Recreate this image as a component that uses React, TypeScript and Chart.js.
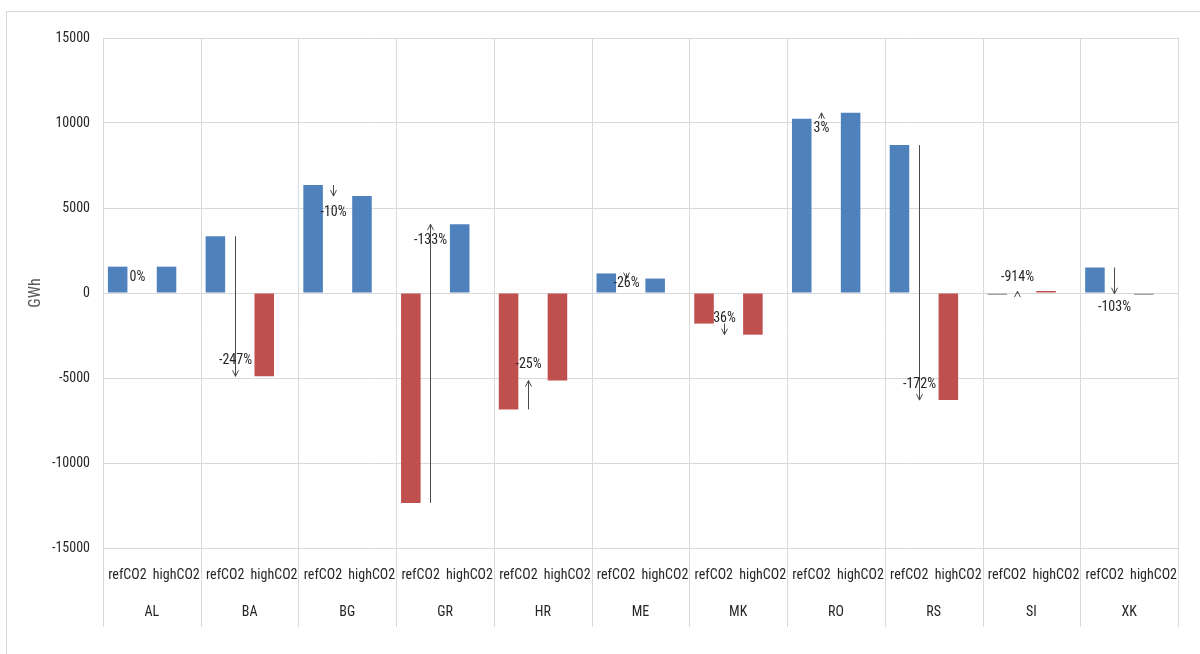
import React, { useEffect, useRef } from 'react';
import { Chart, registerables } from 'chart.js';

Chart.register(...registerables);

const countries = ['AL', 'BA', 'BG', 'GR', 'HR', 'ME', 'MK', 'RO', 'RS', 'SI', 'XK'];
const scenarios = ['refCO2', 'highCO2'];
const refValues = [1550, 3340, 6350, -12350, -6850, 1150, -1800, 10250, 8700, -13, 1500];
const highValues = [1550, -4900, 5700, 4050, -5150, 850, -2450, 10600, -6300, 106, -45];
const changeLabels = ['0%', '-247%', '-10%', '-133%', '-25%', '-26%', '36%', '3%', '-172%', '-914%', '-103%'];
const yMin = -15000;
const yMax = 15000;
const yStep = 5000;
const yTitle = 'GWh';
// bars shown in the "decrease" colour even though positive
const redPositive = ['SI highCO2'];

const BLUE = '#4F81BD';
const RED = '#C0504D';
const GREY = '#a6a6a6';
const GRID = '#d9d9d9';
const TEXT = '#262626';
const FONT = "'Liberation Sans Narrow', 'Arial Narrow', 'Roboto Condensed', Lato, sans-serif";

const labels = countries.flatMap((c) => scenarios.map((s) => `${c} ${s}`));
const barValues = countries.flatMap((_, i) => [refValues[i], highValues[i]]);
const arrowTargets = countries.flatMap((_, i) => [highValues[i], null]);

function barColor(label: string, v: number) {
  if (redPositive.includes(label)) return RED;
  if (Math.abs(v) < 50) return GREY;
  return v < 0 ? RED : BLUE;
}

const overlay = {
  id: 'overlay',
  beforeDatasetsDraw(chart: any) {
    const { ctx, chartArea, scales } = chart;
    const xs = scales.x;
    const half = (xs.getPixelForValue(1) - xs.getPixelForValue(0)) / 2;
    ctx.save();
    ctx.strokeStyle = GRID;
    ctx.lineWidth = 1;
    for (let i = 0; i <= countries.length; i++) {
      const x = Math.round(i < countries.length ? xs.getPixelForValue(2 * i) - half : xs.getPixelForValue(2 * i - 1) + half) + 0.5;
      ctx.beginPath();
      ctx.moveTo(x, chartArea.top);
      ctx.lineTo(x, chartArea.bottom + 79);
      ctx.stroke();
    }
    ctx.restore();
  },
  afterDatasetsDraw(chart: any) {
    const { ctx, chartArea, scales } = chart;
    const xs = scales.x;
    const ys = scales.y;
    const meta = chart.getDatasetMeta(1);
    const y0 = ys.getPixelForValue(0);
    ctx.save();
    // arrows + change labels
    countries.forEach((_, i) => {
      const el = meta.data[2 * i];
      const x = Math.round(el.x) + 0.5;
      const yFrom = ys.getPixelForValue(refValues[i]);
      const yTo = ys.getPixelForValue(highValues[i]);
      if (refValues[i] !== highValues[i]) {
        ctx.strokeStyle = '#4a4a4a';
        ctx.lineWidth = 1;
        ctx.beginPath();
        ctx.moveTo(x, yFrom);
        ctx.lineTo(x, yTo);
        ctx.stroke();
        const dir = yTo > yFrom ? 1 : -1;
        ctx.beginPath();
        ctx.moveTo(x - 3, yTo - dir * 6);
        ctx.lineTo(x, yTo);
        ctx.lineTo(x + 3, yTo - dir * 6);
        ctx.stroke();
      }

      const h = Math.abs(yTo - y0);
      const towardZero = yTo < y0 ? 1 : -1;
      let ly;
      if (h < 6) ly = yTo - towardZero * 14;
      else ly = yTo + towardZero * Math.min(16, Math.max(0, h / 2 - 2));
      ctx.fillStyle = TEXT;
      ctx.font = `14px ${FONT}`;
      ctx.textAlign = 'center';
      ctx.textBaseline = 'middle';
      ctx.fillText(changeLabels[i], x, ly);
    });
    // category axis labels
    ctx.fillStyle = TEXT;
    ctx.font = `14px ${FONT}`;
    ctx.textAlign = 'center';
    ctx.textBaseline = 'middle';
    labels.forEach((_, j) => {
      ctx.fillText(scenarios[j % 2], xs.getPixelForValue(j), chartArea.bottom + 27);
    });
    countries.forEach((c, i) => {
      const cx = (xs.getPixelForValue(2 * i) + xs.getPixelForValue(2 * i + 1)) / 2;
      ctx.fillText(c, cx, chartArea.bottom + 64);
    });
    ctx.restore();
  },
};

export default function App() {
  const ref = useRef<HTMLCanvasElement>(null);
  useEffect(() => {
    if (!ref.current) return;
    const chart = new Chart(ref.current, {
      type: 'bar',
      data: {
        labels,
        datasets: [
          {
            label: 'value',
            data: barValues,
            backgroundColor: barValues.map((v, j) => barColor(labels[j], v)),
            borderWidth: 0,
            minBarLength: 2,
            categoryPercentage: 0.8,
            barPercentage: 1,
          },
          {
            label: 'change',
            data: arrowTargets,
            backgroundColor: 'rgba(0,0,0,0)',
            borderWidth: 0,
            categoryPercentage: 0.8,
            barPercentage: 1,
          },
        ],
      },
      options: {
        animation: false,
        responsive: true,
        maintainAspectRatio: false,
        layout: { padding: { left: 26, right: 22, top: 38, bottom: 106 } },
        plugins: { legend: { display: false }, tooltip: { enabled: false } },
        scales: {
          x: { display: false },
          y: {
            min: yMin,
            max: yMax,
            afterFit: (s: any) => { s.width = 77; },
            ticks: {
              stepSize: yStep,
              padding: 13,
              color: TEXT,
              font: { family: FONT, size: 14 },
              callback: (v: any) => String(v),
            },
            grid: { color: GRID, drawTicks: false },
            border: { color: GRID },
            title: {
              display: true,
              text: yTitle,
              color: '#595959',
              font: { family: FONT, size: 16 },
              padding: { top: 0, bottom: 0 },
            },
          },
        },
      },
      plugins: [overlay],
    });
    return () => chart.destroy();
  }, []);
  return (
    <>
      <div style={{ position: 'absolute', left: 6, top: 11, width: 1300, height: 700, border: `1px solid ${GRID}`, boxSizing: 'border-box' }} />
      <div style={{ position: 'absolute', left: 0, top: 0, width: 1200, height: 654 }}>
        <canvas ref={ref} />
      </div>
    </>
  );
}
